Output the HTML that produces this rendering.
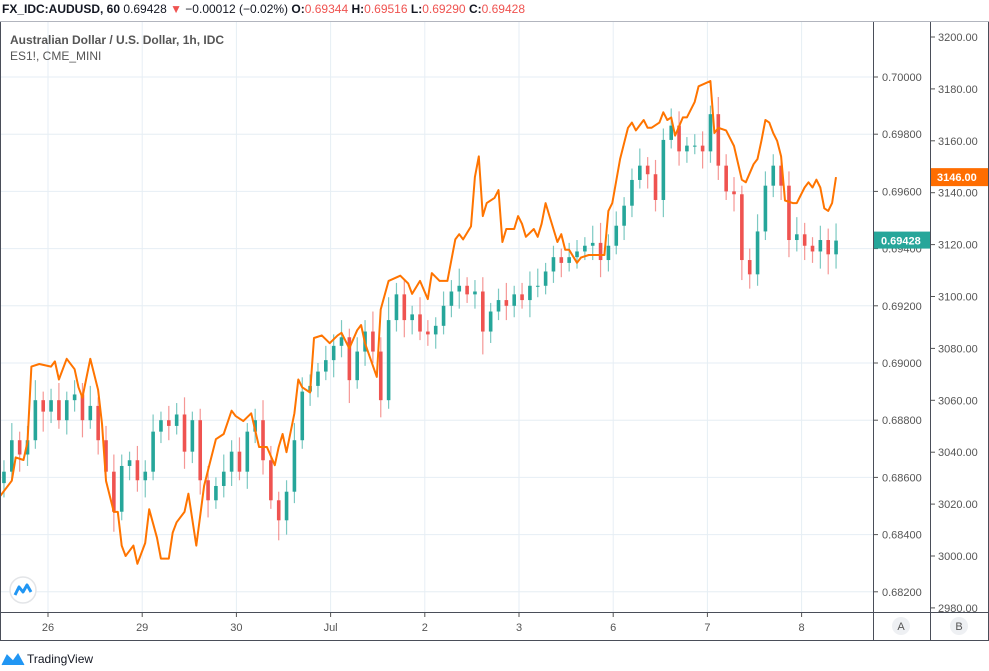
<!DOCTYPE html>
<html><head><meta charset="utf-8"><style>
body{margin:0;background:#fff;font-family:"Liberation Sans",sans-serif;}
#wrap{position:relative;width:989px;height:671px;overflow:hidden;}
.hdr{position:absolute;left:2px;top:2px;font-size:12px;color:#131722;white-space:nowrap;}
.hdr b{font-weight:bold}
.red{color:#ef5350}
</style></head><body>
<div id="wrap">
<div class="hdr"><b>FX_IDC:AUDUSD, 60</b> 0.69428 <span class="red">▼</span> −0.00012 (−0.02%) <b>O:</b><span class="red">0.69344</span> <b>H:</b><span class="red">0.69516</span> <b>L:</b><span class="red">0.69290</span> <b>C:</b><span class="red">0.69428</span></div>
<svg id="chart" width="989" height="671" style="position:absolute;left:0;top:0"></svg>
</div>
<script>
const dayLabels=["26","29","30","Jul","2","3","6","7","8"];
const audTicks=[0.700,0.698,0.696,0.694,0.692,0.690,0.688,0.686,0.684,0.682];
const esTicks=[3200,3180,3160,3140,3120,3100,3080,3060,3040,3020,3000,2980];
const firstOpen=0.6858;
const closes=[0.6862,0.6873,0.6868,0.6873,0.6887,0.6883,0.6887,0.6880,0.6887,0.6889,
0.6880,0.6885,0.6873,0.6862,0.6848,0.6864,0.6866,0.6859,0.6862,0.6876,
0.6880,0.6878,0.6882,0.6869,0.6880,0.6859,0.6852,0.6857,0.6862,0.6869,
0.6862,0.6876,0.6880,0.6866,0.6852,0.6845,0.6855,0.6873,0.6890,0.6892,
0.6897,0.6901,0.6906,0.6909,0.6894,0.6904,0.6911,0.6904,0.6887,0.6915,
0.6924,0.6915,0.6917,0.6911,0.6910,0.6913,0.6920,0.6925,0.6927,0.6924,
0.6925,0.6911,0.6918,0.6922,0.6920,0.6924,0.6922,0.6927,0.6927,0.6932,
0.6937,0.6935,0.6937,0.6939,0.6941,0.6942,0.6936,0.6941,0.6948,0.6955,
0.6964,0.6969,0.6966,0.6957,0.6978,0.6983,0.6974,0.6976,0.6976,0.6974,
0.6987,0.6969,0.6960,0.6959,0.6936,0.6931,0.6946,0.6962,0.6969,0.6962,
0.6943,0.6945,0.6941,0.6939,0.6943,0.6938,0.69428];
const wickUpPips=[4,6,3,5,7,3,4,6,3,5,4,7,3,5,6,4,3,5,4,6,3,5,4,6,3,4,5,3,6,4,5,3,4,7,5,3,4,6,5,4,3,5,4,6,3,5,4,7,5,8,4,5,3,6,4,3,5,4,6,3,4,5,3,4,6,3,4,5,6,3,4,3,5,4,3,6,7,4,5,3,4,6,3,5,4,6,5,3,4,5,3,6,4,5,3,4,6,5,4,3,5,6,4,3,5,4,6];
const wickDnPips=[5,3,6,4,3,7,4,3,5,4,6,3,5,4,7,3,5,4,6,3,4,5,3,6,4,5,6,3,4,5,3,6,4,5,3,7,5,4,3,5,4,3,6,4,8,3,5,4,6,3,4,6,5,3,4,5,3,4,6,3,5,8,4,3,5,4,3,6,4,3,4,5,3,4,3,5,6,4,3,5,4,3,5,4,6,3,5,4,3,6,4,5,3,6,7,5,4,3,4,5,6,4,5,4,6,7,5];
const esHours=[0,3,4,6,7,8,10,13,14,15,17,19,20,21,23,25,26,27,29,30,31,32,34,35,37,38,40,41,43,44,45,47,48,50,52,53,55,57,59,60,62,64,66,68,70,71,72,73,75,76,77,79,80,82,84,86,87,89,91,92,93,96,97,99,102,104,105,107,109,110,112,114,116,117,118,120,121,122,123,124,126,127,128,129,131,132,133,134,136,137,138,139,140,142,143,144,145,147,148,150,154,155,156,158,160,161,162,164,165,166,168,169,170,171,172,174,175,177,178,181,182,183,185,187,189,190,192,193,194,195,196,197,198,199,200,202,203,205,206,207,208,209,210,211,212,213];
const esValues=[3023,3029,3038,3037,3044,3073,3074,3073,3075,3068,3076,3072,3065,3061,3076,3064,3051,3029,3017,3017,3004,3000,3004,2997,3005,3018,3007,2999,2999,3009,3013,3017,3024,3004,3027,3033,3045,3047,3056,3054,3052,3055,3042,3042,3035,3042,3047,3040,3055,3068,3065,3063,3084,3085,3082,3085,3086,3080,3087,3089,3082,3069,3095,3106,3108,3105,3101,3106,3099,3109,3106,3106,3122,3124,3122,3127,3146,3154,3131,3136,3138,3141,3121,3126,3126,3131,3128,3123,3126,3123,3128,3136,3131,3121,3124,3118,3118,3113,3115,3116,3116,3133,3136,3153,3165,3167,3164,3168,3165,3165,3167,3171,3168,3169,3162,3169,3169,3175,3181,3183,3163,3165,3164,3158,3145,3144,3151,3153,3160,3168,3167,3163,3160,3154,3137,3136,3136,3142,3144,3142,3145,3142,3134,3133,3136,3146];

const NS="http://www.w3.org/2000/svg";
const svg=document.getElementById('chart');
function mk(tag,attrs,parent){const e=document.createElementNS(NS,tag);for(const k in attrs)e.setAttribute(k,attrs[k]);(parent||svg).appendChild(e);return e;}
const PX_PER_HOUR=3.925, PLOT_L=1, PLOT_R=873, PLOT_T=22, PLOT_B=612;
const xH=h=>h*PX_PER_HOUR;
const yA=v=>77+(0.700-v)/0.002*57.2;
const yE=v=>37+(3200-v)/20*51.9;
const dayX=i=>48+i*94.2;

const grid=mk('g',{});


audTicks.forEach(t=>{mk('line',{x1:PLOT_L,x2:PLOT_R,y1:yA(t),y2:yA(t),stroke:'#e6eef4','stroke-width':1},grid);});
dayLabels.forEach((d,i)=>{mk('line',{x1:dayX(i),x2:dayX(i),y1:PLOT_T,y2:PLOT_B,stroke:'#e6eef4','stroke-width':1},grid);});

const cg=mk('g',{});


closes.forEach((c,i)=>{
  const o=i===0?firstOpen:closes[i-1];
  const hi=Math.max(o,c)+wickUpPips[i]*0.0001, lo=Math.min(o,c)-wickDnPips[i]*0.0001;
  const x=xH(2*i+0.5)+2;
  const col=c>=o?'#26a69a':'#ef5350';
  const g=mk('g',{},cg);
  
  
  mk('line',{x1:x,x2:x,y1:yA(hi),y2:yA(lo),stroke:col,'stroke-width':1.2,opacity:0.6},g);
  const yt=yA(Math.max(o,c)), yb=yA(Math.min(o,c));
  mk('rect',{x:x-1.8,y:yt,width:3.6,height:Math.max(1,yb-yt),fill:col},g);
});

const pts=esHours.map((h,i)=>xH(h).toFixed(1)+','+yE(esValues[i]).toFixed(1)).join(' ');
const pl=mk('polyline',{points:pts,fill:'none',stroke:'#ff7400','stroke-width':2,'stroke-linejoin':'round'});



const fr=mk('g',{stroke:'#4a4e59','stroke-width':1});


mk('line',{x1:0,x2:989,y1:21.5,y2:21.5,stroke:'#b2b5be'},fr);
mk('line',{x1:0.5,x2:0.5,y1:22,y2:640},fr);
mk('line',{x1:873.5,x2:873.5,y1:22,y2:640},fr);
mk('line',{x1:930.5,x2:930.5,y1:22,y2:640},fr);
mk('line',{x1:988.5,x2:988.5,y1:22,y2:640},fr);
mk('line',{x1:0,x2:989,y1:612.5,y2:612.5},fr);
mk('line',{x1:0,x2:989,y1:640.5,y2:640.5},fr);

const ag=mk('g',{'font-size':11,fill:'#555','font-family':'Liberation Sans, sans-serif'});


audTicks.forEach(t=>{const y=yA(t);mk('line',{x1:874,x2:878,y1:y,y2:y,stroke:'#555'},ag);const tx=mk('text',{x:882,y:y+4},ag);tx.textContent=t.toFixed(5);});
const bg=mk('g',{'font-size':11,fill:'#555','font-family':'Liberation Sans, sans-serif'});


esTicks.forEach(t=>{const y=yE(t);mk('line',{x1:931,x2:935,y1:y,y2:y,stroke:'#555'},bg);const tx=mk('text',{x:938,y:y+4},bg);tx.textContent=t.toFixed(2);});
const lastA=closes[closes.length-1], lastE=esValues[esValues.length-1];
const la=mk('g',{});


mk('rect',{x:874,y:yA(lastA)-9,width:56,height:17,fill:'#26a69a'},la);
const lt=mk('text',{x:881,y:yA(lastA)+4,'font-size':11,fill:'#fff','font-weight':'bold'},la);lt.textContent=lastA.toFixed(5);
const le=mk('g',{});


mk('rect',{x:931,y:yE(lastE)-9,width:57,height:18,fill:'#ff6d00'},le);
const et=mk('text',{x:937,y:yE(lastE)+4,'font-size':11,fill:'#fff','font-weight':'bold'},le);et.textContent=lastE.toFixed(2);

const tg=mk('g',{'font-size':11,fill:'#555','text-anchor':'middle'});


dayLabels.forEach((d,i)=>{const x=dayX(i);mk('line',{x1:x,x2:x,y1:613,y2:617,stroke:'#555'},tg);const tx=mk('text',{x:x,y:631},tg);tx.textContent=d;});
[['A',901],['B',959]].forEach(([l,x])=>{
  const g=mk('g',{},tg);
  
  
  mk('circle',{cx:x,cy:626,r:9,fill:'#eef0f3'},g);const tx=mk('text',{x:x,y:630,fill:'#555'},g);tx.textContent=l;});

const lg=mk('g',{'font-size':12,fill:'#555'});


const l1=mk('text',{x:10,y:44,'font-weight':'600'},lg);l1.textContent='Australian Dollar / U.S. Dollar, 1h, IDC';
const l2=mk('text',{x:10,y:60},lg);l2.textContent='ES1!, CME_MINI';

const lc=mk('g',{});


mk('circle',{cx:23,cy:590,r:13,fill:'#fff',stroke:'#e3e5e8','stroke-width':1.5},lc);
mk('polyline',{points:'15,595 19,587 23,592 27,585 31,592',fill:'none',stroke:'#2196f3','stroke-width':3,'stroke-linejoin':'round'},lc);
const fg=mk('g',{});


mk('polyline',{points:'2,665 7,655 13,661 18,654 24,665',fill:'#2196f3',stroke:'#2196f3','stroke-width':1},fg);
const ft=mk('text',{x:27,y:663,'font-size':12,fill:'#131722'},fg);ft.textContent='TradingView';
</script>
</body></html>
